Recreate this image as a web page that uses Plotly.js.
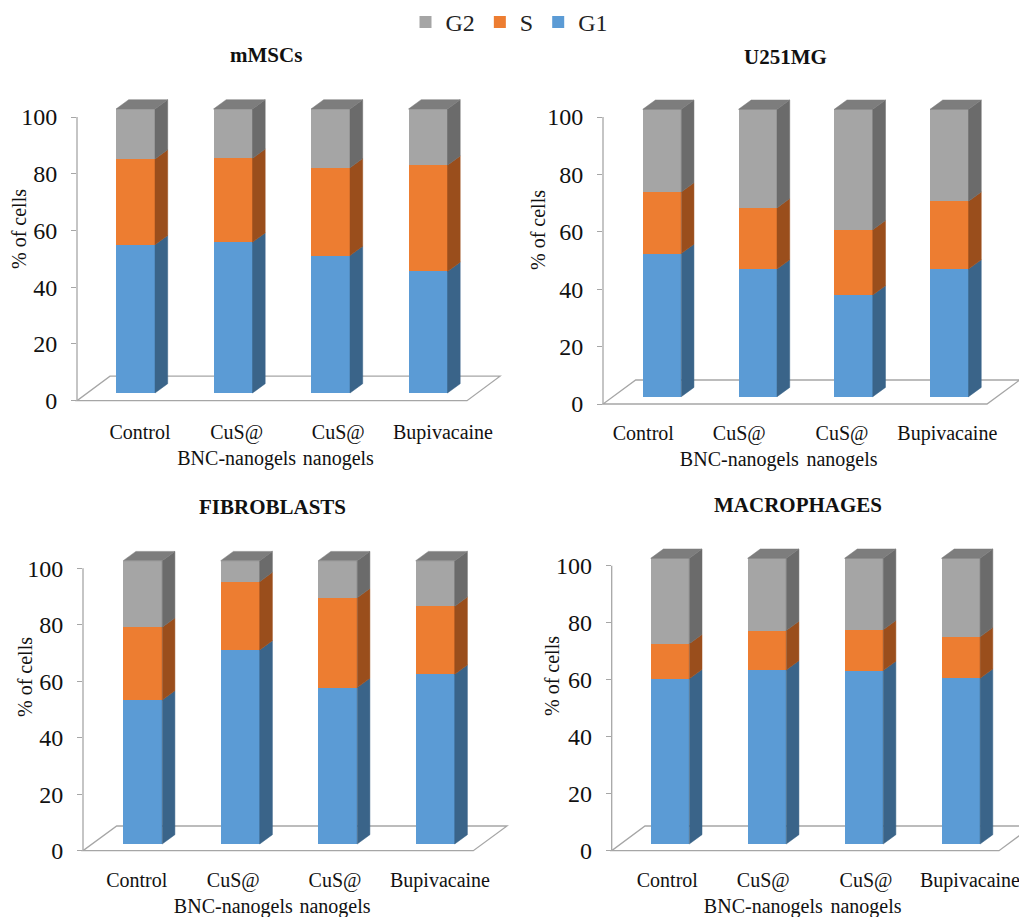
<!DOCTYPE html>
<html><head><meta charset="utf-8">
<script src="https://cdn.plot.ly/plotly-3.0.1.min.js"></script>
<style>html,body{margin:0;padding:0;background:#fff}#chart{width:1019px;height:917px}</style>
</head><body><div id="chart"></div>
<script>
// ---------------- data ----------------
const categories = ['Control', 'CuS@ BNC-nanogels', 'CuS@ nanogels', 'Bupivacaine'];
const tickLabels = ['Control', 'CuS@<br>BNC-nanogels', 'CuS@<br>nanogels', 'Bupivacaine'];
const phases = ['G1', 'S', 'G2'];
const yTicks = [0, 20, 40, 60, 80, 100];
const panelTitles = ['mMSCs', 'U251MG', 'FIBROBLASTS', 'MACROPHAGES'];

const mMSCs_G1 = [52.2, 53.1, 48.4, 42.8];
const mMSCs_S  = [30.2, 29.5, 30.9, 37.4];
const mMSCs_G2 = [17.6, 17.4, 20.7, 19.8];

const U251MG_G1 = [49.8, 44.4, 35.4, 44.4];
const U251MG_S  = [21.4, 21.3, 22.7, 23.6];
const U251MG_G2 = [28.8, 34.3, 41.9, 32.0];

const fibroblasts_G1 = [50.8, 68.5, 55.2, 59.9];
const fibroblasts_S  = [25.7, 24.1, 31.7, 24.0];
const fibroblasts_G2 = [23.5, 7.4, 13.1, 16.1];

const macrophages_G1 = [57.8, 60.9, 60.7, 58.0];
const macrophages_S  = [12.3, 13.8, 14.3, 14.5];
const macrophages_G2 = [29.9, 25.3, 25.0, 27.5];

const panelData = [
  [mMSCs_G1, mMSCs_S, mMSCs_G2],
  [U251MG_G1, U251MG_S, U251MG_G2],
  [fibroblasts_G1, fibroblasts_S, fibroblasts_G2],
  [macrophages_G1, macrophages_S, macrophages_G2]
];

// ---------------- styles / geometry ----------------
const W = 1019, H = 917;
const FONT = '"Liberation Serif", "Times New Roman", Times, serif';
const frontColors = {G1: '#5b9bd5', S: '#ed7d31', G2: '#a5a5a5'};
const sideColors  = {G1: '#3a6489', S: '#9a4e1c', G2: '#6b6b6b'};
const topColor = '#7d7d7d';
const lineGray = '#a6a6a6';
const DEPTH_X = 12.7, DEPTH_Y = 9.3;   // pixel depth of 3D bars

const geom = [
  {axisX: 77,    y0: 400.7, y100: 117,   fb: 393,   ft: 109,   centers: [135.5, 232.5, 330.5, 428],   barW: 39,
   labelX: [140, 236.7, 338.3, 443],   floorW: 390,   fdx: 33,   fdy: 24.5, titleX: 266, titleY: 55,  ytX: 19,  ytY: 229, lblOff: 17},
  {axisX: 603,   y0: 404,   y100: 117,   fb: 396.7, ft: 109.3, centers: [662, 757.7, 853.3, 949.3],   barW: 38.5,
   labelX: [643.3, 739.3, 842, 947.3], floorW: 384,   fdx: 32.7, fdy: 24,   titleX: 785, titleY: 57,  ytX: 538, ytY: 230, lblOff: 15},
  {axisX: 83,    y0: 850.7, y100: 568.3, fb: 844,   ft: 560.7, centers: [142.7, 240.2, 337.5, 435.2], barW: 39,
   labelX: [136.7, 233.3, 335, 440],   floorW: 390.3, fdx: 33.7, fdy: 24.7, titleX: 272, titleY: 507, ytX: 25,  ytY: 677, lblOff: 15},
  {axisX: 611.7, y0: 850.7, y100: 565.7, fb: 844,   ft: 558.3, centers: [670, 767.2, 863.7, 960.8], barW: 38.6,
   labelX: [667.3, 763.3, 866, 970],   floorW: 387.3, fdx: 33.3, fdy: 24.7, titleX: 798, titleY: 505, ytX: 552, ytY: 676, lblOff: 15}
];

const px = x => x / W;
const py = y => 1 - y / H;

const traces = [];
const layout = {
  width: W, height: H,
  margin: {l: 0, r: 0, t: 0, b: 0},
  paper_bgcolor: '#fff', plot_bgcolor: 'rgba(0,0,0,0)',
  barmode: 'stack',
  showlegend: true,
  legend: {orientation: 'h', x: 0.5, xanchor: 'center', y: 1.0, yanchor: 'top',
           font: {family: FONT, size: 24, color: '#222'}, itemwidth: 30, traceorder: 'normal'},
  font: {family: FONT, color: '#111'},
  shapes: [], annotations: []
};

geom.forEach((g, i) => {
  const k = i === 0 ? '' : String(i + 1);
  const xa = 'x' + k, ya = 'y' + k;
  const s = (g.fb - g.ft) / 100;                        // px per unit
  const b = (g.centers[3] - g.centers[0]) / 3;          // px per category
  const c0 = g.centers[0];
  const xL = g.axisX, xR = Math.min(W, g.axisX + g.floorW + g.fdx + 5);
  const yBot = g.y0, yTop = g.ft - 22;

  layout['xaxis' + k] = {
    domain: [px(xL), px(xR)], range: [(xL - c0) / b, (xR - c0) / b],
    anchor: ya, showgrid: false, zeroline: false, showline: false, ticks: '',
    tickmode: 'array', tickvals: g.labelX.map(x => (x - c0) / b), ticktext: tickLabels,
    ticklabeloverflow: 'allow',
    tickfont: {family: FONT, size: 20, color: '#111'}, ticklabelstandoff: g.lblOff, fixedrange: true
  };
  layout['yaxis' + k] = {
    domain: [py(yBot), py(yTop)], range: [(g.fb - yBot) / s, (g.fb - yTop) / s],
    anchor: xa, showgrid: false, zeroline: false, showline: false,
    ticks: 'outside', ticklen: 5, tickcolor: lineGray, tickwidth: 1,
    tickmode: 'array',
    tickvals: yTicks.map(t => (g.fb - (g.y0 - t * (g.y0 - g.y100) / 100)) / s),
    ticktext: yTicks.map(String), ticklabeloverflow: 'allow',
    tickfont: {family: FONT, size: 24, color: '#111'}, ticklabelstandoff: 9, fixedrange: true
  };

  const data = panelData[i];
  const hw = g.barW / b / 2, ddx = DEPTH_X / b, ddy = DEPTH_Y / s;
  const xs = categories.map((_, j) => j);
  const cum = xs.map(() => 0);

  phases.forEach((p, pi) => {
    const vals = data[pi];
    traces.push({
      type: 'bar', x: xs, y: vals, width: g.barW / b, name: p,
      xaxis: xa, yaxis: ya, legendgroup: p, showlegend: i === 0, legendrank: 3 - pi,
      marker: {color: frontColors[p], line: {width: 0}},
      customdata: categories, hovertemplate: '%{customdata}<br>' + p + ': %{y}%<extra></extra>'
    });
    // side faces
    const sx = [], sy = [];
    vals.forEach((v, j) => {
      const lo = cum[j], hi = cum[j] + v;
      sx.push(j + hw, j + hw + ddx, j + hw + ddx, j + hw, j + hw, null);
      sy.push(lo, lo + ddy, hi + ddy, hi, lo, null);
      cum[j] = hi;
    });
    traces.push({
      type: 'scatter', mode: 'lines', x: sx, y: sy, fill: 'toself',
      fillcolor: sideColors[p], line: {color: sideColors[p], width: 0.5},
      xaxis: xa, yaxis: ya, showlegend: false, hoverinfo: 'skip', legendgroup: p
    });
  });
  // top faces
  const tx = [], ty = [];
  cum.forEach((tot, j) => {
    tx.push(j - hw, j + hw, j + hw + ddx, j - hw + ddx, j - hw, null);
    ty.push(tot, tot, tot + ddy, tot + ddy, tot, null);
  });
  traces.push({
    type: 'scatter', mode: 'lines', x: tx, y: ty, fill: 'toself',
    fillcolor: topColor, line: {color: topColor, width: 0.5},
    xaxis: xa, yaxis: ya, showlegend: false, hoverinfo: 'skip'
  });

  // floor (3D base) and value axis line
  const fx0 = g.axisX, fx1 = g.axisX + g.floorW;
  const path = `M${px(fx0)},${py(g.y0)} L${px(fx1)},${py(g.y0)} L${px(fx1 + g.fdx)},${py(g.y0 - g.fdy)} ` +
               `L${px(fx0 + g.fdx)},${py(g.y0 - g.fdy)} Z`;
  layout.shapes.push({type: 'path', xref: 'paper', yref: 'paper', path: path,
                      line: {color: lineGray, width: 1.3}, layer: 'below'});
  layout.shapes.push({type: 'line', xref: 'paper', yref: 'paper',
                      x0: px(g.axisX), x1: px(g.axisX), y0: py(g.y0), y1: py(g.y100),
                      line: {color: lineGray, width: 1.3}, layer: 'below'});

  layout.annotations.push({text: '<b>' + panelTitles[i] + '</b>', xref: 'paper', yref: 'paper',
    x: px(g.titleX), y: py(g.titleY), xanchor: 'center', yanchor: 'middle', showarrow: false,
    font: {family: FONT, size: 21, color: '#111'}});
  layout.annotations.push({text: '% of cells', xref: 'paper', yref: 'paper', textangle: -90,
    x: px(g.ytX), y: py(g.ytY), xanchor: 'center', yanchor: 'middle', showarrow: false,
    font: {family: FONT, size: 20, color: '#111'}});
});

Plotly.newPlot('chart', traces, layout, {displayModeBar: false});
</script>
</body></html>
